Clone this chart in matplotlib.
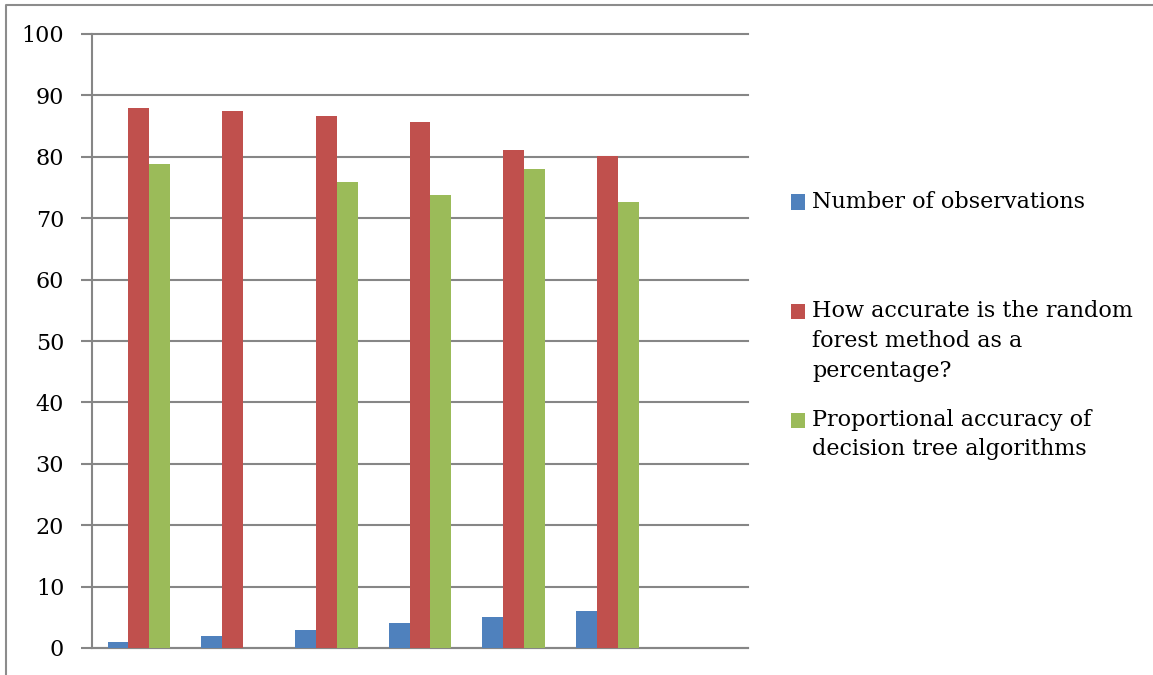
import matplotlib
matplotlib.use("Agg")
import matplotlib.pyplot as plt
import numpy as np
from matplotlib.patches import Rectangle
from matplotlib.lines import Line2D

categories = ["1", "2", "3", "4", "5", "6", "7"]
observations = [1, 2, 3, 4, 5, 6, np.nan]
random_forest = [88.0, 87.5, 86.7, 85.7, 81.1, 80.1, np.nan]
decision_tree = [78.9, np.nan, 75.9, 73.8, 78.0, 72.7, np.nan]
series_labels = ["Number of observations",
                 "How accurate is the random\nforest method as a\npercentage?",
                 "Proportional accuracy of\ndecision tree algorithms"]
colors = ["#4F81BD", "#C0504D", "#9BBB59"]
y_ticks = [0, 10, 20, 30, 40, 50, 60, 70, 80, 90, 100]

W, H = 1153, 675
fig = plt.figure(figsize=(W / 100, H / 100), dpi=100)
font = "DejaVu Serif"

ax = fig.add_axes([92 / W, 1 - 648 / H, (748 - 92) / W, (648 - 34) / H])
x = np.arange(len(categories))
bw = 0.2227
for i, (vals, c) in enumerate(zip([observations, random_forest, decision_tree], colors)):
    ax.bar(x + (i - 1) * bw, vals, width=bw, color=c, zorder=3)

ax.set_xlim(-0.5, len(categories) - 0.5)
ax.set_ylim(0, 100)
ax.set_yticks(y_ticks)
ax.set_yticklabels([str(t) for t in y_ticks], fontfamily=font, fontsize=16)
ax.set_xticks([])
ax.grid(axis="y", color="#868686", linewidth=1.5, zorder=0)
for gl in ax.get_ygridlines():
    gl.set_clip_on(False)
for s in ["top", "right"]:
    ax.spines[s].set_visible(False)
ax.spines["left"].set_color("#868686")
ax.spines["left"].set_linewidth(1.5)
ax.spines["bottom"].set_color("#868686")
ax.spines["bottom"].set_linewidth(1.5)
ax.tick_params(axis="y", length=8, width=1.5, color="#868686", pad=12)

# outer border (top and left)
fig.add_artist(Line2D([6 / W, 6 / W, 1], [0, 1 - 5 / H, 1 - 5 / H],
                      transform=fig.transFigure, color="#8c8c8c", linewidth=1.5))

# legend
sq_x, sq_w, sq_h = 791, 14, 15
text_x = 812
entries = [(202, 202), (311, 341), (420, 434.5)]
for (sq_cy, txt_cy), lab, c in zip(entries, series_labels, colors):
    fig.add_artist(Rectangle((sq_x / W, 1 - (sq_cy + sq_h / 2) / H), sq_w / W, sq_h / H,
                             transform=fig.transFigure, facecolor=c, edgecolor="none"))
    fig.text(text_x / W, 1 - txt_cy / H, lab, fontfamily=font, fontsize=16,
             va="center", ha="left", linespacing=1.45)

fig.savefig("out.png", dpi=100)
